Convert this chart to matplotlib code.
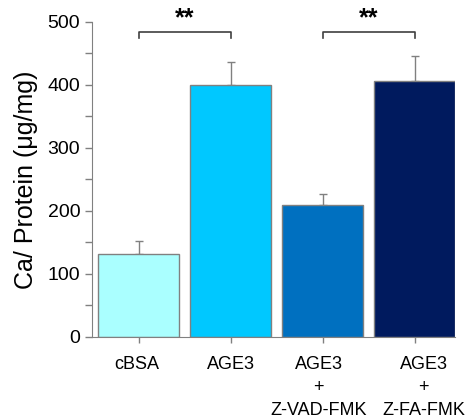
import matplotlib
matplotlib.use("Agg")
import matplotlib.pyplot as plt
from matplotlib.transforms import ScaledTranslation

plt.rcParams["font.family"] = ["Liberation Sans", "DejaVu Sans"]

# values
groups = ["cBSA", "AGE3", "AGE3\n+\nZ-VAD-FMK", "AGE3\n+\nZ-FA-FMK"]
means = [131, 399, 209, 406]
errs = [21, 37, 17, 40]
colors = ["#aaffff", "#00c8ff", "#0070c0", "#001a5e"]
yticks = [0, 100, 200, 300, 400, 500]
sig_pairs = [(0, 1), (2, 3)]
sig_y = 484
sig_text = "**"

fig = plt.figure(figsize=(4.72, 4.19), dpi=100)
ax = fig.add_axes([0.195, 0.196, 0.769, 0.752])

x = list(range(len(groups)))
ax.bar(x, means, width=0.88, color=colors, edgecolor="#808080", linewidth=1.0, zorder=2)
ax.errorbar(x, means, yerr=[[0] * len(errs), errs], fmt="none", ecolor="#808080",
            elinewidth=1.0, capsize=3, capthick=1.0, zorder=1)

for a, b in sig_pairs:
    ax.plot([a, a, b, b], [sig_y - 9, sig_y, sig_y, sig_y - 9], color="#404040", lw=1.2, clip_on=False)
    ax.text((a + b) / 2, sig_y + 2, sig_text, ha="center", va="bottom", fontsize=18,
            fontweight="bold", color="black")

ax.set_xlim(-0.51, 3.44)
ax.set_ylim(0, 500)
ax.set_yticks(yticks)
ax.set_yticks([50, 150, 250, 350, 450], minor=True)
ax.set_xticks(x)
ax.set_xticklabels(groups, fontsize=13, linespacing=1.45)
ax.tick_params(axis="y", labelsize=14, length=5, color="#808080", width=1)
ax.tick_params(axis="y", which="minor", length=5, color="#808080", width=1)
ax.tick_params(axis="x", length=4, color="#808080", width=1, pad=10)
ax.set_ylabel("Ca/ Protein (\u03bcg/mg)", fontsize=18)
ax.yaxis.set_label_coords(-0.149, 0.5)

# the last two labels sit a little apart in the original
shifts = [-2, 0, -4, 9]
for lab, dx in zip(ax.get_xticklabels(), shifts):
    lab.set_transform(lab.get_transform() + ScaledTranslation(dx / 100, 0, fig.dpi_scale_trans))

for s in ["top", "right"]:
    ax.spines[s].set_visible(False)
for s in ["left", "bottom"]:
    ax.spines[s].set_color("#808080")

fig.savefig("out.png", dpi=100)
